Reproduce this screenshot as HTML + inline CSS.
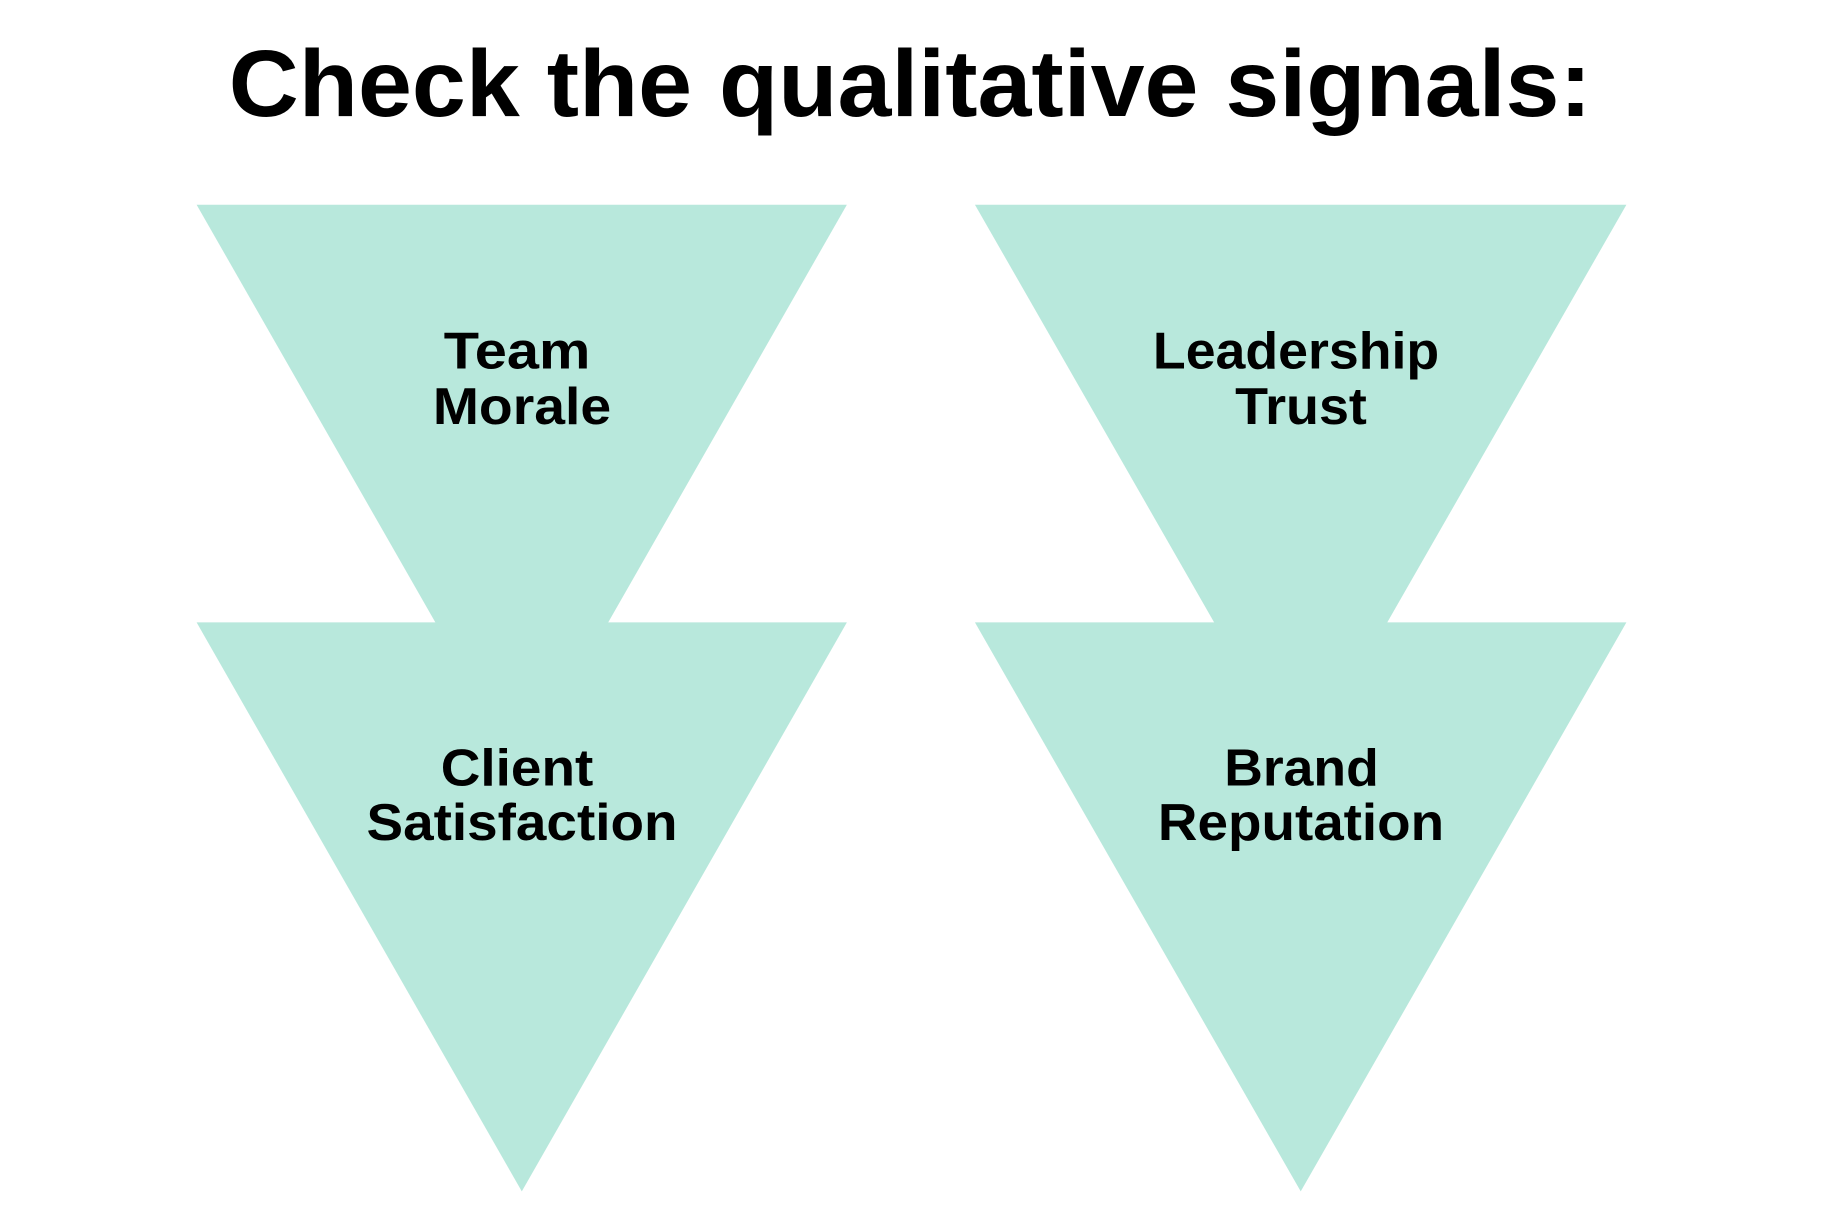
<!DOCTYPE html>
<html><head><meta charset="utf-8"><style>html,body{margin:0;padding:0;background:#fff}</style></head>
<body>
<svg width="1823" height="1215" viewBox="0 0 1823 1215" xmlns="http://www.w3.org/2000/svg">
<rect width="1823" height="1215" fill="#fff"/>
<g transform="scale(0.9905)">
<g fill="#b8e8dc">
<polygon points="198.5,206.7 855,206.7 526.8,781"/>
<polygon points="198.5,628.4 855,628.4 526.8,1202.8"/>
<polygon points="984.3,206.7 1642,206.7 1313.2,781"/>
<polygon points="984.3,628.4 1642,628.4 1313.2,1202.8"/>
</g>
<g font-family="Liberation Sans, sans-serif" font-weight="bold" fill="#000">
<text x="231" y="117" font-size="96" textLength="1376" lengthAdjust="spacingAndGlyphs">Check the qualitative signals:</text>
<g font-size="52">
<text x="448" y="372" textLength="148" lengthAdjust="spacingAndGlyphs">Team</text>
<text x="437" y="428" textLength="180" lengthAdjust="spacingAndGlyphs">Morale</text>
<text x="1164" y="372" textLength="289" lengthAdjust="spacingAndGlyphs">Leadership</text>
<text x="1247" y="428" textLength="133" lengthAdjust="spacingAndGlyphs">Trust</text>
<text x="445" y="793" textLength="154" lengthAdjust="spacingAndGlyphs">Client</text>
<text x="370" y="848" textLength="314" lengthAdjust="spacingAndGlyphs">Satisfaction</text>
<text x="1236" y="793" textLength="156" lengthAdjust="spacingAndGlyphs">Brand</text>
<text x="1169" y="848" textLength="289" lengthAdjust="spacingAndGlyphs">Reputation</text>
</g>
</g>
</g>
</svg>
</body></html>
